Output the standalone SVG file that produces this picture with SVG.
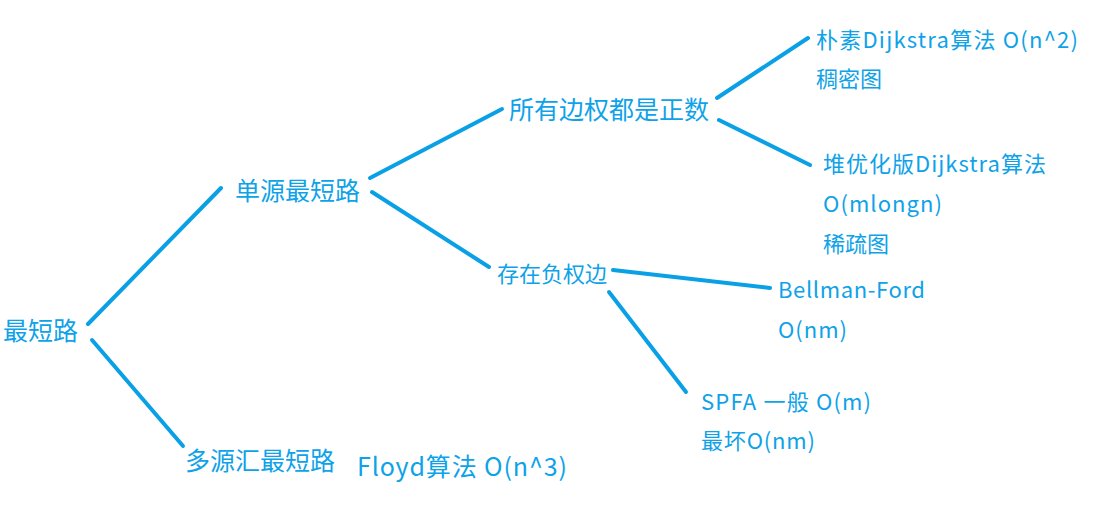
<svg xmlns="http://www.w3.org/2000/svg" width="1093" height="513" viewBox="0 0 1093 513">
<style>
text{font-family:"Noto Sans CJK SC","Microsoft YaHei",sans-serif;fill:#0ea2e8}
.l{font-size:25px}
.s{font-size:22px}
#connectors line{stroke:#0aa0e6;stroke-width:4;stroke-linecap:round}
</style>
<rect width="1093" height="513" fill="#ffffff"/>
<g id="connectors">
<line x1="88" y1="324" x2="221" y2="188"/>
<line x1="92" y1="340" x2="183" y2="446"/>
<line x1="370" y1="178" x2="502" y2="109"/>
<line x1="372" y1="192" x2="489" y2="267"/>
<line x1="717" y1="98" x2="808" y2="38"/>
<line x1="719" y1="120" x2="810" y2="165"/>
<line x1="613" y1="270" x2="770" y2="288"/>
<line x1="609" y1="292" x2="686" y2="392"/>
</g>
<g id="root"><text class="l" x="3" y="340">最短路</text></g>
<g id="single"><text class="l" x="235" y="200">单源最短路</text></g>
<g id="positive"><text class="l" x="509" y="119">所有边权都是正数</text></g>
<g id="negative"><text class="s" x="497" y="282">存在负权边</text></g>
<g id="naive"><text class="s" x="816" y="48" textLength="262" lengthAdjust="spacing">朴素Dijkstra算法 O(n^2)</text><text class="s" x="816" y="87">稠密图</text></g>
<g id="heap"><text class="s" x="823" y="172" textLength="223" lengthAdjust="spacing">堆优化版Dijkstra算法</text><text class="s" x="823" y="212" textLength="119" lengthAdjust="spacing">O(mlongn)</text><text class="s" x="823" y="252">稀疏图</text></g>
<g id="bellman"><text class="s" x="778" y="298" textLength="147" lengthAdjust="spacing">Bellman-Ford</text><text class="s" x="778" y="338" textLength="69" lengthAdjust="spacing">O(nm)</text></g>
<g id="spfa"><text class="s" x="701" y="410" textLength="170" lengthAdjust="spacing">SPFA 一般 O(m)</text><text class="s" x="701" y="449" textLength="114" lengthAdjust="spacing">最坏O(nm)</text></g>
<g id="multi"><text class="l" x="185" y="470">多源汇最短路</text></g>
<g id="floyd"><text x="357" y="476" font-size="25" textLength="210" lengthAdjust="spacing">Floyd算法 O(n^3)</text></g>
</svg>
